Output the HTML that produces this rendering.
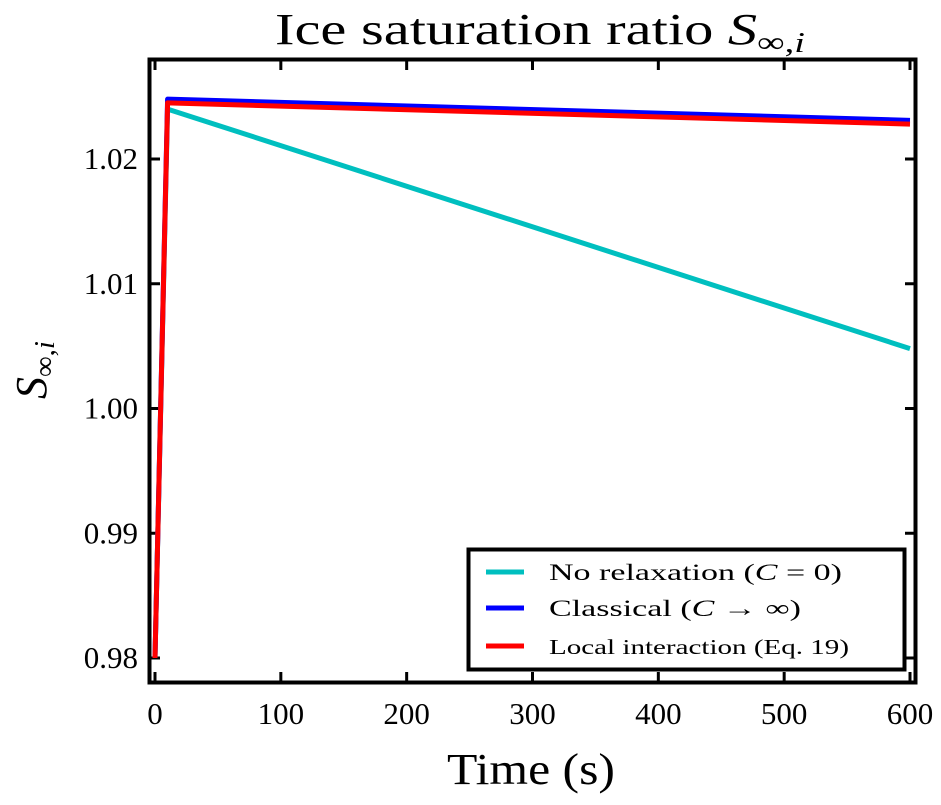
<!DOCTYPE html>
<html><head><meta charset="utf-8"><style>
body{margin:0;background:#fff;}
svg text{font-family:"Liberation Serif",serif;fill:#000;}
</style></head><body>
<svg id="chart" width="941" height="800" viewBox="0 0 941 800" xmlns="http://www.w3.org/2000/svg">
<g id="plot"></g>
<rect x="149.5" y="59.5" width="766" height="623" fill="none" stroke="#000" stroke-width="4"/>
<text x="275" y="44" font-size="44" textLength="530" lengthAdjust="spacingAndGlyphs">Ice saturation ratio <tspan font-style="italic">S</tspan><tspan font-size="29" dy="8">∞,<tspan font-style="italic">i</tspan></tspan></text>
<text x="447" y="784" font-size="44" textLength="168" lengthAdjust="spacingAndGlyphs">Time (s)</text>
<text transform="translate(46,370) rotate(-90)" font-size="44" text-anchor="middle"><tspan font-style="italic">S</tspan><tspan font-size="29" dy="8">∞,<tspan font-style="italic">i</tspan></tspan></text>
<g>
<rect x="468.5" y="549.5" width="436" height="120" fill="#fff" stroke="#000" stroke-width="4"/>
<line x1="486" x2="524" y1="572" y2="572" stroke="#00bfbf" stroke-width="5"/>
<text x="549" y="580" font-size="23" textLength="293" lengthAdjust="spacingAndGlyphs">No relaxation (<tspan font-style="italic">C</tspan> = 0)</text>
<line x1="486" x2="524" y1="608" y2="608" stroke="#0000ff" stroke-width="5"/>
<text x="549" y="616" font-size="23" textLength="252" lengthAdjust="spacingAndGlyphs">Classical (<tspan font-style="italic">C</tspan> → ∞)</text>
<line x1="486" x2="524" y1="646" y2="646" stroke="#ff0000" stroke-width="5"/>
<text x="549" y="654" font-size="21" textLength="300" lengthAdjust="spacingAndGlyphs">Local interaction  (Eq. 19)</text>
</g>
</svg>
<script>
const times = [0, 10, 600];
const noRelax = [0.980, 1.0240, 1.0048];
const classical = [0.980, 1.0248, 1.0231];
const localInt = [0.980, 1.0245, 1.0228];
const xTicks = [0, 100, 200, 300, 400, 500, 600];
const yTicks = [0.98, 0.99, 1.00, 1.01, 1.02];
const yTickLabels = ["0.98", "0.99", "1.00", "1.01", "1.02"];

const NS = "http://www.w3.org/2000/svg";
const X = v => 155 + v * (910 - 155) / 600;
const Y = v => 658 - (v - 0.98) * (658 - 159) / 0.04;
const plot = document.getElementById('plot');
function mk(tag, attrs){const e=document.createElementNS(NS,tag);for(const k in attrs)e.setAttribute(k,attrs[k]);return e;}

xTicks.forEach(t=>{
  const g=mk('g',{});
  
  
  g.appendChild(mk('line',{x1:X(t),x2:X(t),y1:682,y2:672,stroke:'#000','stroke-width':3}));
  g.appendChild(mk('line',{x1:X(t),x2:X(t),y1:60,y2:70,stroke:'#000','stroke-width':3}));
  const tx=mk('text',{x:X(t),y:724,'font-size':31,'text-anchor':'middle'});tx.textContent=t;
  g.appendChild(tx);plot.appendChild(g);
});
yTicks.forEach((v,i)=>{
  const g=mk('g',{});
  
  
  g.appendChild(mk('line',{x1:150,x2:160,y1:Y(v),y2:Y(v),stroke:'#000','stroke-width':3}));
  g.appendChild(mk('line',{x1:915,x2:905,y1:Y(v),y2:Y(v),stroke:'#000','stroke-width':3}));
  const tx=mk('text',{x:138,y:Y(v)+10,'font-size':31,'text-anchor':'end'});tx.textContent=yTickLabels[i];
  g.appendChild(tx);plot.appendChild(g);
});
function line(vals,color,name){
  const p=mk('polyline',{points:times.map((t,i)=>X(t)+','+Y(vals[i])).join(' '),fill:'none',stroke:color,'stroke-width':5,'stroke-linejoin':'round'});
  
  
  plot.appendChild(p);
}
line(noRelax,'#00bfbf','line-no-relaxation');
line(classical,'#0000ff','line-classical');
line(localInt,'#ff0000','line-local-interaction');
</script>
</body></html>
